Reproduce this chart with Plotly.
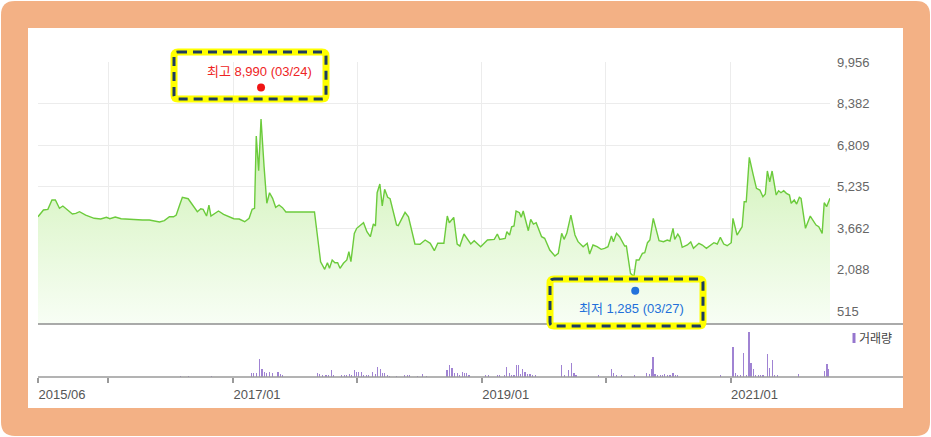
import plotly.graph_objects as go

# price line (close)
price_dates = [
    "2015-06-08", "2015-06-24", "2015-07-07", "2015-07-19", "2015-07-29", "2015-08-10", "2015-08-20",
    "2015-09-07", "2015-09-17", "2015-09-27", "2015-10-08", "2015-10-26", "2015-11-20", "2015-12-09",
    "2015-12-26", "2016-01-05", "2016-01-21", "2016-02-07", "2016-03-01", "2016-03-21", "2016-04-10",
    "2016-04-30", "2016-05-15", "2016-05-30", "2016-06-13", "2016-06-28", "2016-07-10", "2016-07-18",
    "2016-07-28", "2016-08-05", "2016-08-22", "2016-09-01", "2016-09-18", "2016-09-28", "2016-10-05",
    "2016-10-15", "2016-10-22", "2016-10-28", "2016-11-19", "2016-12-04", "2016-12-19", "2017-01-03",
    "2017-01-19", "2017-02-04", "2017-02-17", "2017-02-26", "2017-03-05", "2017-03-10", "2017-03-17",
    "2017-03-24", "2017-04-02", "2017-04-10", "2017-04-18", "2017-04-27", "2017-05-06", "2017-05-16",
    "2017-05-26", "2017-06-05", "2017-08-28", "2017-09-06", "2017-09-15", "2017-09-27", "2017-10-05",
    "2017-10-11", "2017-10-19", "2017-10-27", "2017-11-04", "2017-11-11", "2017-11-21", "2017-12-01",
    "2017-12-07", "2017-12-13", "2017-12-23", "2017-12-30", "2018-01-19", "2018-01-29", "2018-02-08",
    "2018-02-17", "2018-02-23", "2018-02-28", "2018-03-08", "2018-03-15", "2018-03-22", "2018-03-31",
    "2018-04-07", "2018-04-26", "2018-05-01", "2018-05-21", "2018-05-31", "2018-06-19", "2018-07-04",
    "2018-07-19", "2018-07-29", "2018-08-03", "2018-08-15", "2018-08-25", "2018-09-12", "2018-09-22",
    "2018-09-28", "2018-10-11", "2018-10-21", "2018-10-29", "2018-11-10", "2018-11-30", "2018-12-10",
    "2018-12-29", "2019-01-18", "2019-02-07", "2019-02-16", "2019-02-23", "2019-03-11", "2019-03-16",
    "2019-03-24", "2019-03-30", "2019-04-06", "2019-04-12", "2019-04-22", "2019-04-27", "2019-05-03",
    "2019-05-18", "2019-05-25", "2019-06-02", "2019-06-10", "2019-06-26", "2019-07-05", "2019-07-20",
    "2019-08-04", "2019-08-14", "2019-08-24", "2019-08-31", "2019-09-08", "2019-09-20", "2019-10-02",
    "2019-10-11", "2019-10-26", "2019-11-07", "2019-11-14", "2019-11-24", "2019-12-06", "2019-12-18",
    "2019-12-28", "2020-01-07", "2020-01-17", "2020-01-23", "2020-02-01", "2020-02-10", "2020-02-25",
    "2020-03-01", "2020-03-13", "2020-03-23", "2020-03-30", "2020-04-07", "2020-04-17", "2020-04-24",
    "2020-05-02", "2020-05-09", "2020-05-19", "2020-05-26", "2020-06-05", "2020-06-18", "2020-06-29",
    "2020-07-07", "2020-07-16", "2020-07-21", "2020-07-30", "2020-08-05", "2020-08-12", "2020-08-27",
    "2020-09-06", "2020-09-14", "2020-09-30", "2020-10-10", "2020-10-22", "2020-11-13", "2020-11-23",
    "2020-12-02", "2020-12-12", "2020-12-22", "2021-01-03", "2021-01-08", "2021-01-20", "2021-02-04",
    "2021-02-10", "2021-02-16", "2021-02-25", "2021-03-08", "2021-03-18", "2021-03-28", "2021-04-06",
    "2021-04-13", "2021-04-19", "2021-04-26", "2021-05-03", "2021-05-15", "2021-05-22", "2021-05-29",
    "2021-06-06", "2021-06-14", "2021-06-23", "2021-06-28", "2021-07-07", "2021-07-14", "2021-07-22",
    "2021-07-27", "2021-08-09", "2021-08-23", "2021-09-09", "2021-09-17", "2021-09-27", "2021-10-03",
    "2021-10-10", "2021-10-20",
]
price_vals = [
    4090, 4344, 4370, 4723, 4723, 4408, 4496,
    4280, 4192, 4218, 4280, 4154, 4029, 4003,
    4067, 4014, 4078, 4014, 3991, 3991, 3965,
    3965, 3940, 3889, 3940, 4090, 4090, 4154,
    4533, 4825, 4772, 4598, 4280, 4393, 4370,
    4116, 4533, 4116, 4306, 4181, 4090, 4014,
    4003, 3900, 4029, 4370, 4408, 7150, 5834,
    7795, 5986, 4598, 5000, 4787, 4446, 4533,
    4433, 4268, 4268, 3206, 2383, 2095, 2345,
    2133, 2448, 2345, 2345, 2133, 2323, 2448,
    2763, 2383, 3460, 3650, 3862, 3521, 3331,
    3813, 3737, 5000, 5330, 4496, 5129, 4825,
    4772, 3775, 3750, 4256, 4090, 3055, 3043,
    3206, 3105, 3081, 2801, 3081, 3081, 4116,
    3862, 4067, 3055, 2979, 3434, 3055, 3181,
    2953, 3206, 3232, 3434, 3232, 3270, 3521,
    3396, 3711, 3737, 4306, 4242, 4067, 4306,
    3559, 3991, 3813, 3862, 3331, 3270, 2827,
    2600, 2701, 3460, 3232, 3460, 4154, 3396,
    3144, 2953, 3081, 2675, 3017, 2953, 2852,
    2890, 2953, 3358, 3144, 3460, 3331, 2979,
    2979, 1943, 1815, 2448, 2448, 2701, 2725,
    3105, 3206, 4029, 3711, 3181, 3144, 3206,
    3168, 3650, 3232, 3434, 3308, 2930, 3017,
    3130, 2890, 3081, 3017, 2890, 3105, 3055,
    3308, 3055, 2991, 3105, 4029, 3396, 3711,
    4659, 4659, 6342, 5709, 5167, 5102, 4848,
    4951, 5823, 5417, 5823, 4913, 5076, 5000,
    5076, 4977, 4913, 4598, 4723, 4571, 4825,
    4787, 3650, 4116, 3775, 3711, 3460, 4621,
    4469, 4787,
]

# trading volume (shares)
vol_dates = [
    "2016-07-30", "2016-08-22", "2016-10-30", "2017-02-24", "2017-03-03", "2017-03-11", "2017-03-19",
    "2017-03-27", "2017-04-03", "2017-04-10", "2017-04-18", "2017-04-26", "2017-05-13", "2017-05-20",
    "2017-05-27", "2017-09-06", "2017-09-12", "2017-09-20", "2017-10-01", "2017-10-08", "2017-10-17",
    "2017-10-24", "2017-11-16", "2017-11-24", "2017-12-01", "2017-12-08", "2017-12-15", "2017-12-23",
    "2017-12-30", "2018-01-05", "2018-01-12", "2018-01-19", "2018-01-27", "2018-02-03", "2018-02-15",
    "2018-02-22", "2018-02-28", "2018-03-09", "2018-03-16", "2018-03-22", "2018-03-31", "2018-04-05",
    "2018-04-26", "2018-05-19", "2018-05-27", "2018-06-03", "2018-06-27", "2018-07-12", "2018-07-22",
    "2018-09-21", "2018-09-28", "2018-10-06", "2018-10-13", "2018-10-21", "2018-10-28", "2018-11-05",
    "2018-11-11", "2018-11-18", "2018-11-25", "2019-01-13", "2019-01-20", "2019-02-16", "2019-02-23",
    "2019-03-08", "2019-03-15", "2019-03-23", "2019-03-30", "2019-04-06", "2019-04-14", "2019-04-18",
    "2019-04-25", "2019-05-01", "2019-05-08", "2019-05-16", "2019-05-23", "2019-05-31", "2019-06-07",
    "2019-08-24", "2019-09-01", "2019-09-14", "2019-09-22", "2019-09-29", "2019-10-05", "2019-12-11",
    "2020-01-17", "2020-01-23", "2020-02-01", "2020-02-15", "2020-03-26", "2020-04-30", "2020-05-07",
    "2020-05-13", "2020-05-18", "2020-05-24", "2020-05-31", "2020-06-08", "2020-06-15", "2020-06-22",
    "2020-06-29", "2020-07-07", "2020-07-16", "2020-07-24", "2020-07-30", "2020-12-02", "2021-01-08",
    "2021-01-15", "2021-01-22", "2021-01-30", "2021-02-09", "2021-02-16", "2021-02-24", "2021-03-02",
    "2021-03-09", "2021-03-16", "2021-03-23", "2021-03-30", "2021-04-06", "2021-04-19", "2021-04-26",
    "2021-05-03", "2021-05-11", "2021-05-18", "2021-07-19", "2021-10-03", "2021-10-11", "2021-10-16",
]
vol_vals = [
    130000, 130000, 130000, 430000, 430000, 430000, 1770000,
    770000, 500000, 430000, 530000, 430000, 530000, 270000,
    170000, 400000, 270000, 170000, 200000, 170000, 670000,
    170000, 170000, 170000, 200000, 270000, 170000, 670000,
    530000, 530000, 530000, 170000, 170000, 170000, 500000,
    270000, 1030000, 770000, 370000, 370000, 170000, 130000,
    130000, 170000, 170000, 170000, 130000, 300000, 130000,
    670000, 1170000, 900000, 400000, 400000, 170000, 530000,
    400000, 400000, 170000, 170000, 170000, 170000, 170000,
    170000, 1030000, 400000, 170000, 170000, 1170000, 1170000,
    270000, 830000, 530000, 270000, 270000, 170000, 170000,
    1170000, 170000, 670000, 1400000, 400000, 170000, 170000,
    800000, 400000, 170000, 170000, 170000, 400000, 270000,
    770000, 2030000, 270000, 170000, 170000, 170000, 270000,
    170000, 170000, 400000, 170000, 170000, 170000, 3030000,
    400000, 170000, 170000, 2430000, 170000, 4530000, 1430000,
    830000, 170000, 170000, 170000, 170000, 2270000, 930000,
    1670000, 170000, 170000, 270000, 600000, 1270000, 770000,
]

hi_date, hi_val = "2017-03-24", 8990
lo_date, lo_val = "2020-03-27", 1285

y_ticks = [515, 2088, 3662, 5235, 6809, 8382, 9956]
x_ticks = ["2015-06-08", "2016-01-01", "2017-01-01", "2018-01-01", "2019-01-01", "2020-01-01", "2021-01-01"]
x_ticktext = ["2015/06", "", "2017/01", "", "2019/01", "", "2021/01"]

W, H = 931, 437
FONT = "Liberation Sans, Arial, Noto Sans CJK KR, sans-serif"


def px(x):
    return x / W


def py(y):
    return 1 - y / H


def round_rect(x0, y0, x1, y1, r):
    # rounded rectangle path in paper coords, input in pixels
    p = lambda x, y: f"{px(x):.5f},{py(y):.5f}"
    return (f"M{p(x0 + r, y0)} L{p(x1 - r, y0)} Q{p(x1, y0)} {p(x1, y0 + r)} "
            f"L{p(x1, y1 - r)} Q{p(x1, y1)} {p(x1 - r, y1)} L{p(x0 + r, y1)} "
            f"Q{p(x0, y1)} {p(x0, y1 - r)} L{p(x0, y0 + r)} Q{p(x0, y0)} {p(x0 + r, y0)} Z")


fig = go.Figure()

fig.add_trace(go.Scatter(
    x=price_dates, y=price_vals, mode="lines",
    line=dict(color="#6ccb3c", width=1.4),
    fill="tozeroy",
    fillgradient=dict(type="vertical", start=0, stop=8000,
                      colorscale=[[0, "rgb(248,254,245)"], [0.45, "rgb(228,248,214)"], [1, "rgb(200,240,172)"]]),
    xaxis="x", yaxis="y", showlegend=False, hoverinfo="skip",
))
fig.add_trace(go.Scatter(x=[hi_date], y=[hi_val], mode="markers",
                         marker=dict(color="#f01414", size=8), xaxis="x", yaxis="y",
                         showlegend=False, cliponaxis=False))
fig.add_trace(go.Scatter(x=[lo_date], y=[lo_val], mode="markers",
                         marker=dict(color="#2272dc", size=8), xaxis="x", yaxis="y",
                         showlegend=False, cliponaxis=False))

fig.add_trace(go.Bar(
    x=vol_dates, y=vol_vals, width=3.5 * 86400000,
    marker=dict(color="rgba(150,118,206,0.9)", line=dict(width=0)),
    xaxis="x2", yaxis="y2", showlegend=False,
))

x_dom = [px(38), px(830)]
x_range = ["2015-06-08", "2021-10-20"]

fig.update_layout(
    width=W, height=H,
    margin=dict(l=0, r=0, t=0, b=0, autoexpand=False),
    paper_bgcolor="white", plot_bgcolor="rgba(0,0,0,0)",
    font=dict(family=FONT),
    bargap=0,
    xaxis=dict(domain=x_dom, range=x_range, type="date", tickvals=x_ticks, automargin=False,
               showticklabels=False, showgrid=True, gridcolor="#ececec", gridwidth=1,
               zeroline=False, showline=False, anchor="y"),
    yaxis=dict(domain=[py(324), py(62)], range=[21, 9958], side="right", automargin=False,
               tickvals=y_ticks, ticktext=[f"{v:,}" for v in y_ticks],
               tickfont=dict(size=13, color="#666666"), ticks="", ticklabelstandoff=6,
               showgrid=True, gridcolor="#ececec", gridwidth=1, zeroline=False,
               showline=False, anchor="x"),
    xaxis2=dict(domain=x_dom, range=x_range, type="date", matches="x", anchor="y2",
                automargin=False,
                tickvals=x_ticks, ticktext=x_ticktext, ticks="outside", ticklen=5,
                tickwidth=1.5, tickcolor="#9a9a9a", ticklabelshift=24,
                tickfont=dict(size=13, color="#555555"),
                showgrid=False, zeroline=False, showline=False),
    yaxis2=dict(domain=[py(377), py(326)], range=[0, 5100000], visible=False, automargin=False,
                showgrid=False, zeroline=False, anchor="x2"),
)

shapes = [
    # orange frame and white card
    dict(type="path", path=round_rect(1, 1, 930, 436, 14), xref="paper", yref="paper",
         fillcolor="#f3b185", line=dict(width=0), layer="below"),
    dict(type="rect", x0=px(28), x1=px(903), y0=py(408), y1=py(28), xref="paper", yref="paper",
         fillcolor="white", line=dict(width=0), layer="below"),
    # panel separators
    dict(type="line", x0=px(38), x1=px(903), y0=py(324), y1=py(324), xref="paper", yref="paper",
         line=dict(color="#8e8e8e", width=1.5)),
    dict(type="line", x0=px(38), x1=px(903), y0=py(377), y1=py(377), xref="paper", yref="paper",
         line=dict(color="#9a9a9a", width=1.5)),
    # volume legend swatch
    dict(type="rect", x0=px(852.5), x1=px(855.5), y0=py(343), y1=py(333), xref="paper", yref="paper",
         fillcolor="#9676ce", line=dict(width=0)),
]

# highlight boxes around high / low labels
for (x0, y0, x1, y1) in [(174, 52, 326, 99), (550, 279, 703, 326)]:
    path = round_rect(x0, y0, x1, y1, 4)
    shapes.append(dict(type="path", path=path, xref="paper", yref="paper",
                       line=dict(color="#ffff00", width=7)))
    shapes.append(dict(type="path", path=path, xref="paper", yref="paper",
                       line=dict(color="#1d3c60", width=3, dash="9px,6px")))

fig.update_layout(shapes=shapes)

fig.add_annotation(x=px(259), y=py(71), xref="paper", yref="paper", showarrow=False,
                   xanchor="center", yanchor="middle",
                   text=f"최고 {hi_val:,} ({hi_date[5:7]}/{hi_date[8:]})",
                   font=dict(size=13, color="#ee2424", family=FONT))
fig.add_annotation(x=px(631), y=py(308), xref="paper", yref="paper", showarrow=False,
                   xanchor="center", yanchor="middle",
                   text=f"최저 {lo_val:,} ({lo_date[5:7]}/{lo_date[8:]})",
                   font=dict(size=13, color="#2270da", family=FONT))
fig.add_annotation(x=px(857), y=py(339), xref="paper", yref="paper", showarrow=False,
                   xanchor="left", yanchor="middle", text="거래량",
                   font=dict(size=12, color="#444444", family=FONT))

# page body margin would shift the chart inside the window
fig.write_html("out.html", config={"displayModeBar": False},
               post_script="document.body.style.margin='0';")
